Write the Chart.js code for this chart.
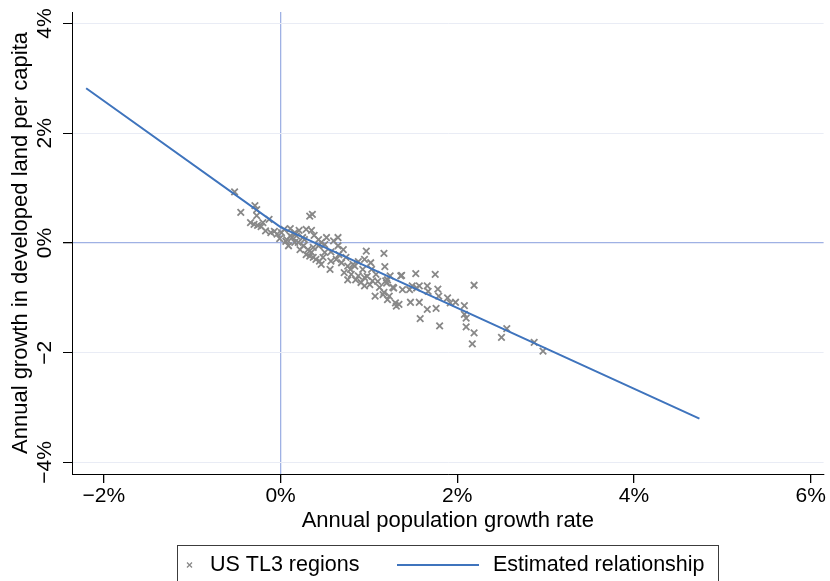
<!DOCTYPE html>
<html>
<head>
<meta charset="utf-8">
<script src="https://cdn.jsdelivr.net/npm/chart.js@4.4.1/dist/chart.umd.min.js"></script>
<style>
  html, body { margin: 0; padding: 0; background: #fff; }
</style>
</head>
<body>
<canvas id="landChart" width="830" height="581"></canvas>
<script>
// Annual population growth (%) and annual growth in developed land per capita (%), US TL3 regions
const popGrowth = [
  -0.52, -0.45, -0.29, -0.27, -0.27, -0.30, -0.26, -0.22, -0.13, -0.17,
  -0.11, -0.04, 0.33, 0.36, 0.29, 0.35, 0.16, 0.11, 0.07, 0.09,
  0.20, 0.26, 0.22, 0.31, 0.35, 0.33, 0.43, 0.50, 0.40, 0.46,
  0.65, 0.60, 0.37, 0.46, 0.50, 0.37, 0.44, 0.57, 0.63, 0.56,
  0.69, 0.76, 0.82, 0.72, 0.80, 0.85, 0.76, 0.91, 0.95, 0.97,
  1.02, 1.17, 1.18, 1.01, 1.04, 1.19, 1.27, 1.07, 1.16, 1.21,
  1.30, 1.36, 1.38, 0.95, 1.24, 1.20, 1.17, 1.23, 1.31, 1.34,
  1.28, 1.37, 1.46, 1.53, 1.49, 1.54, 1.57, 1.47, 1.57, 1.66,
  1.67, 1.75, 1.66, 1.58, 1.78, 1.79, 1.76, 1.89, 1.92, 1.98,
  1.80, 2.08, 2.08, 2.10, 2.10, 2.19, 2.19, 2.17, 2.56, 2.50,
  2.87, 2.97, 0.65, 0.88, 1.03, 0.84, 0.95, 1.21, 0.01, 0.04,
  0.13, 0.18, 0.25, -0.01, 0.06, -0.07, -0.20, -0.34, 0.16, 0.27,
  0.38, 0.43, 0.52, 0.71, 0.57, 0.66, 0.74, 0.88, 0.93, 1.08,
  1.12, 0.29, 0.48, 0.79, 0.98, 1.10, 0.21, 0.11
];
const landGrowth = [
  0.93, 0.56, 0.68, 0.61, 0.50, 0.34, 0.32, 0.30, 0.43, 0.22,
  0.19, 0.16, 0.49, 0.52, 0.25, 0.23, 0.19, 0.13, 0.06, -0.05,
  0.01, -0.05, -0.12, -0.12, -0.17, -0.24, -0.05, -0.03, -0.30, -0.39,
  0.10, 0.04, -0.08, 0.01, -0.17, -0.26, -0.33, -0.33, -0.30, -0.48,
  -0.36, -0.42, -0.39, -0.54, -0.57, -0.67, -0.67, -0.72, -0.63, -0.15,
  -0.36, -0.19, -0.43, -0.76, -0.69, -0.69, -0.81, -0.97, -0.94, -1.03,
  -1.09, -0.60, -0.85, -0.78, -0.60, -0.73, -0.90, -0.97, -1.15, -1.12,
  -0.82, -0.59, -0.85, -0.56, -0.78, -0.82, -0.78, -1.08, -1.08, -0.78,
  -0.88, -0.57, -1.21, -1.38, -0.84, -0.97, -1.19, -1.00, -1.09, -1.08,
  -1.51, -1.14, -1.30, -1.37, -1.53, -0.77, -1.64, -1.84, -1.56, -1.72,
  -1.81, -1.97, -0.05, -0.60, -0.48, -0.42, -0.30, -0.67, 0.19, 0.25,
  0.10, 0.13, 0.10, 0.08, 0.03, 0.21, 0.37, 0.37, 0.01, 0.06,
  0.14, 0.06, 0.10, -0.12, -0.16, -0.21, -0.26, -0.34, -0.48, -0.57,
  -0.81, -0.21, -0.26, -0.48, -0.61, -0.70, 0.23, 0.26
];

// Estimated relationship (kinked at zero population growth)
const fitX = [-2.20, 0, 4.74];
const fitY = [2.82, 0.29, -3.20];

const xTickValues = [-2, 0, 2, 4, 6];
const xTickLabels = ['\u22122%', '0%', '2%', '4%', '6%'];
const yTickValues = [-4, -2, 0, 2, 4];
const yTickLabels = ['\u22124%', '\u22122', '0%', '2%', '4%'];

const FONT_FAMILY = '"Liberation Sans", Arial, sans-serif';
const FONT_SIZE = 21;
const MARKER_GREY = '#888888';
const LINE_BLUE = '#3f74bd';
const ZERO_LINE = '#9fb1e4';
const GRID_LINE = '#e9ecf5';

Chart.defaults.font.family = FONT_FAMILY;
Chart.defaults.font.size = FONT_SIZE;
Chart.defaults.color = '#000';

// y tick labels are drawn rotated, reading upwards
const rotatedYTicks = {
  id: 'rotatedYTicks',
  afterDraw(chart) {
    const { ctx } = chart;
    const y = chart.scales.y;
    ctx.save();
    ctx.font = FONT_SIZE + 'px ' + FONT_FAMILY;
    ctx.fillStyle = '#000';
    ctx.textAlign = 'center';
    ctx.textBaseline = 'middle';
    yTickValues.forEach((v, i) => {
      ctx.save();
      ctx.translate(y.right - 27, y.getPixelForValue(v));
      ctx.rotate(-Math.PI / 2);
      ctx.fillText(yTickLabels[i], 0, 0);
      ctx.restore();
    });
    ctx.restore();
  }
};

// boxed legend under the x axis title
const boxedLegend = {
  id: 'boxedLegend',
  afterDraw(chart) {
    const { ctx } = chart;
    const top = 545, left = 177, right = 718, mid = 565;
    ctx.save();
    ctx.strokeStyle = '#3c3c3c';
    ctx.lineWidth = 1;
    ctx.strokeRect(left + 0.5, top + 0.5, right - left, 60);

    ctx.strokeStyle = MARKER_GREY;
    ctx.lineWidth = 1.3;
    ctx.beginPath();
    ctx.moveTo(187, mid - 2.5); ctx.lineTo(192, mid + 2.5);
    ctx.moveTo(187, mid + 2.5); ctx.lineTo(192, mid - 2.5);
    ctx.stroke();

    ctx.strokeStyle = LINE_BLUE;
    ctx.lineWidth = 2;
    ctx.beginPath();
    ctx.moveTo(397, mid); ctx.lineTo(479, mid);
    ctx.stroke();

    ctx.font = '21.5px ' + FONT_FAMILY;
    ctx.fillStyle = '#000';
    ctx.textAlign = 'left';
    ctx.textBaseline = 'middle';
    ctx.fillText('US TL3 regions', 210, mid);
    ctx.fillText('Estimated relationship', 493, mid);
    ctx.restore();
  }
};

const ctx = document.getElementById('landChart').getContext('2d');
const chart = new Chart(ctx, {
  data: {
    datasets: [
      {
        type: 'line',
        label: 'Estimated relationship',
        data: fitX.map((x, i) => ({ x: x, y: fitY[i] })),
        borderColor: LINE_BLUE,
        borderWidth: 2,
        pointRadius: 0,
        tension: 0,
        order: 0
      },
      {
        type: 'scatter',
        label: 'US TL3 regions',
        data: popGrowth.map((x, i) => ({ x: x, y: landGrowth[i] })),
        pointStyle: 'crossRot',
        pointRadius: 4.6,
        borderColor: MARKER_GREY,
        backgroundColor: MARKER_GREY,
        borderWidth: 1.8,
        order: 1
      }
    ]
  },
  options: {
    responsive: false,
    animation: false,
    events: [],
    layout: { padding: { left: 0, top: 12, right: 1, bottom: 47 } },
    plugins: {
      legend: { display: false },
      tooltip: { enabled: false }
    },
    scales: {
      x: {
        type: 'linear',
        min: -2.36,
        max: 6.145,
        afterBuildTicks: s => { s.ticks = xTickValues.map(v => ({ value: v })); },
        afterFit: s => { s.height = 60; },
        ticks: {
          padding: 1,
          maxRotation: 0,
          callback: (v, i) => xTickLabels[i]
        },
        grid: {
          color: c => (c.tick && c.tick.value === 0 ? ZERO_LINE : 'rgba(0,0,0,0)'),
          tickColor: '#000',
          tickLength: 9,
          lineWidth: 1.3
        },
        border: { display: true, color: '#000', width: 1 },
        title: {
          display: true,
          text: 'Annual population growth rate',
          font: { size: 22 },
          padding: 0
        }
      },
      y: {
        type: 'linear',
        min: -4.21,
        max: 4.21,
        afterBuildTicks: s => { s.ticks = yTickValues.map(v => ({ value: v })); },
        afterFit: s => { s.width = 72; },
        ticks: { display: false },
        grid: {
          color: c => (c.tick && c.tick.value === 0 ? ZERO_LINE : GRID_LINE),
          tickColor: '#000',
          tickLength: 9,
          lineWidth: c => (c.tick && c.tick.value === 0 ? 1.3 : 1)
        },
        border: { display: true, color: '#000', width: 1 },
        title: {
          display: true,
          text: 'Annual growth in developed land per capita',
          font: { size: 22 },
          padding: { top: 8, bottom: 0 }
        }
      }
    }
  },
  plugins: [rotatedYTicks, boxedLegend]
});
</script>
</body>
</html>
